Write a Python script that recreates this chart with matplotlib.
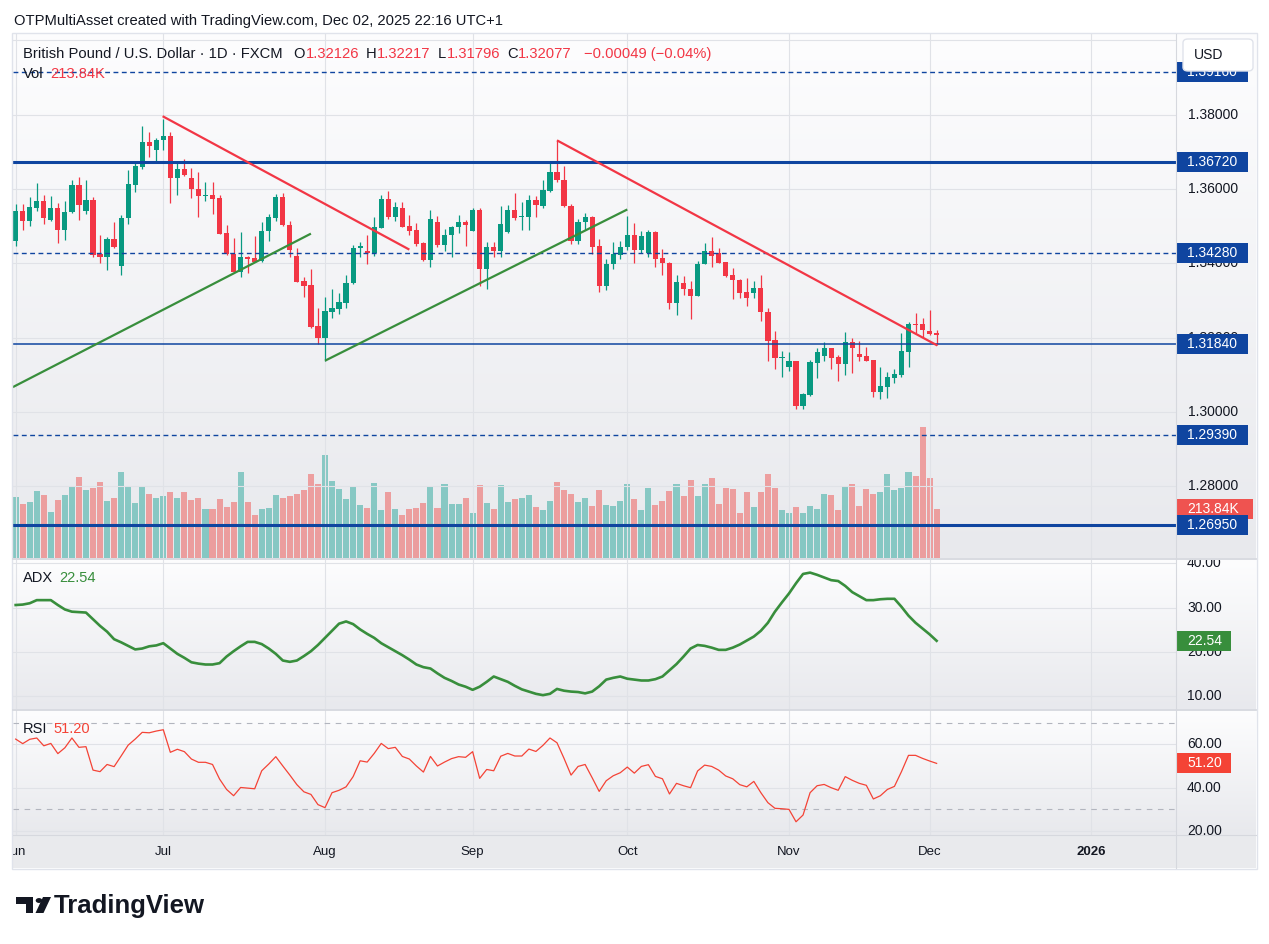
import numpy as np
import matplotlib
matplotlib.use("Agg")
import matplotlib.pyplot as plt
from matplotlib.colors import LinearSegmentedColormap
from matplotlib.lines import Line2D
from matplotlib.patches import Rectangle, FancyBboxPatch, Polygon, Circle

W, H = 1269, 944
plt.rcParams["font.family"] = ["Liberation Sans", "DejaVu Sans"]

# ---- daily GBPUSD bars, 2 Jun 2025 .. 2 Dec 2025 ----
opens = [
    1.3459, 1.3541, 1.3513, 1.3550, 1.3568, 1.3517, 1.3549, 1.3491, 1.3537, 1.3611,
    1.3540, 1.3571, 1.3426, 1.3416, 1.3466, 1.3394, 1.3521, 1.3612, 1.3660, 1.3727,
    1.3704, 1.3731, 1.3743, 1.3631, 1.3655, 1.3630, 1.3601, 1.3580, 1.3585, 1.3575,
    1.3482, 1.3426, 1.3378, 1.3417, 1.3415, 1.3405, 1.3486, 1.3523, 1.3579, 1.3503,
    1.3420, 1.3353, 1.3342, 1.3232, 1.3200, 1.3268, 1.3278, 1.3294, 1.3346, 1.3440,
    1.3434, 1.3428, 1.3496, 1.3574, 1.3525, 1.3548, 1.3501, 1.3490, 1.3455, 1.3410,
    1.3512, 1.3450, 1.3477, 1.3497, 1.3512, 1.3488, 1.3544, 1.3385, 1.3444, 1.3432,
    1.3485, 1.3544, 1.3526, 1.3526, 1.3571, 1.3555, 1.3595, 1.3646, 1.3625, 1.3555,
    1.3459, 1.3511, 1.3525, 1.3447, 1.3338, 1.3397, 1.3423, 1.3443, 1.3477, 1.3435,
    1.3429, 1.3485, 1.3415, 1.3401, 1.3292, 1.3347, 1.3331, 1.3313, 1.3397, 1.3434,
    1.3428, 1.3404, 1.3369, 1.3356, 1.3323, 1.3319, 1.3334, 1.3269, 1.3194, 1.3146,
    1.3122, 1.3137, 1.3017, 1.3047, 1.3133, 1.3152, 1.3172, 1.3148, 1.3130, 1.3189,
    1.3156, 1.3151, 1.3140, 1.3055, 1.3068, 1.3092, 1.3100, 1.3162, 1.3237, 1.3237,
    1.3218, 1.32126,
]
highs = [
    1.3560, 1.3560, 1.3579, 1.3617, 1.3585, 1.3582, 1.3562, 1.3568, 1.3625, 1.3633,
    1.3623, 1.3579, 1.3477, 1.3470, 1.3512, 1.3530, 1.3650, 1.3673, 1.3770, 1.3754,
    1.3738, 1.3789, 1.3753, 1.3676, 1.3682, 1.3657, 1.3647, 1.3620, 1.3620, 1.3585,
    1.3504, 1.3467, 1.3485, 1.3421, 1.3474, 1.3512, 1.3534, 1.3586, 1.3590, 1.3513,
    1.3441, 1.3362, 1.3385, 1.3280, 1.3310, 1.3331, 1.3321, 1.3370, 1.3449, 1.3458,
    1.3477, 1.3525, 1.3584, 1.3595, 1.3566, 1.3566, 1.3531, 1.3509, 1.3458, 1.3544,
    1.3528, 1.3493, 1.3501, 1.3531, 1.3517, 1.3549, 1.3549, 1.3458, 1.3458, 1.3555,
    1.3558, 1.3590, 1.3566, 1.3585, 1.3582, 1.3625, 1.3673, 1.3731, 1.3663, 1.3560,
    1.3520, 1.3536, 1.3528, 1.3466, 1.3412, 1.3458, 1.3461, 1.3528, 1.3509, 1.3487,
    1.3490, 1.3487, 1.3439, 1.3404, 1.3369, 1.3366, 1.3353, 1.3407, 1.3455, 1.3471,
    1.3442, 1.3404, 1.3388, 1.3358, 1.3361, 1.3353, 1.3369, 1.3280, 1.3218, 1.3164,
    1.3162, 1.3137, 1.3052, 1.3140, 1.3172, 1.3189, 1.3172, 1.3153, 1.3215, 1.3199,
    1.3191, 1.3175, 1.3140, 1.3121, 1.3108, 1.3116, 1.3213, 1.3242, 1.3267, 1.3253,
    1.3275, 1.32217,
]
lows = [
    1.3448, 1.3490, 1.3501, 1.3540, 1.3507, 1.3514, 1.3456, 1.3464, 1.3536, 1.3518,
    1.3534, 1.3416, 1.3400, 1.3383, 1.3440, 1.3370, 1.3506, 1.3591, 1.3653, 1.3685,
    1.3674, 1.3704, 1.3563, 1.3585, 1.3636, 1.3577, 1.3526, 1.3567, 1.3534, 1.3479,
    1.3423, 1.3377, 1.3364, 1.3375, 1.3403, 1.3403, 1.3461, 1.3515, 1.3501, 1.3417,
    1.3350, 1.3309, 1.3227, 1.3184, 1.3138, 1.3254, 1.3265, 1.3281, 1.3345, 1.3418,
    1.3399, 1.3421, 1.3495, 1.3520, 1.3514, 1.3499, 1.3477, 1.3447, 1.3407, 1.3391,
    1.3445, 1.3433, 1.3416, 1.3483, 1.3448, 1.3488, 1.3340, 1.3331, 1.3416, 1.3417,
    1.3482, 1.3517, 1.3490, 1.3490, 1.3526, 1.3549, 1.3593, 1.3620, 1.3552, 1.3453,
    1.3453, 1.3490, 1.3426, 1.3323, 1.3329, 1.3385, 1.3412, 1.3436, 1.3401, 1.3427,
    1.3418, 1.3391, 1.3370, 1.3278, 1.3262, 1.3316, 1.3249, 1.3311, 1.3397, 1.3391,
    1.3400, 1.3362, 1.3304, 1.3308, 1.3286, 1.3308, 1.3246, 1.3138, 1.3117, 1.3095,
    1.3109, 1.3009, 1.3009, 1.3044, 1.3092, 1.3136, 1.3117, 1.3084, 1.3100, 1.3106,
    1.3136, 1.3136, 1.3041, 1.3036, 1.3039, 1.3079, 1.3095, 1.3122, 1.3213, 1.3203,
    1.3206, 1.31796,
]
closes = [
    1.3541, 1.3513, 1.3552, 1.3568, 1.3523, 1.3549, 1.3491, 1.3539, 1.3611, 1.3558,
    1.3571, 1.3423, 1.3416, 1.3466, 1.3445, 1.3523, 1.3614, 1.3663, 1.3727, 1.3715,
    1.3733, 1.3743, 1.3631, 1.3655, 1.3637, 1.3599, 1.3580, 1.3585, 1.3572, 1.3480,
    1.3424, 1.3378, 1.3417, 1.3413, 1.3404, 1.3487, 1.3525, 1.3579, 1.3502, 1.3435,
    1.3351, 1.3340, 1.3230, 1.3200, 1.3272, 1.3280, 1.3297, 1.3347, 1.3442, 1.3448,
    1.3427, 1.3498, 1.3574, 1.3525, 1.3552, 1.3499, 1.3488, 1.3452, 1.3409, 1.3520,
    1.3450, 1.3477, 1.3499, 1.3512, 1.3502, 1.3544, 1.3385, 1.3444, 1.3432, 1.3506,
    1.3544, 1.3523, 1.3528, 1.3571, 1.3556, 1.3598, 1.3646, 1.3623, 1.3553, 1.3459,
    1.3512, 1.3525, 1.3445, 1.3338, 1.3399, 1.3426, 1.3444, 1.3477, 1.3435, 1.3474,
    1.3485, 1.3413, 1.3400, 1.3292, 1.3350, 1.3330, 1.3313, 1.3399, 1.3434, 1.3421,
    1.3402, 1.3367, 1.3354, 1.3321, 1.3308, 1.3334, 1.3268, 1.3192, 1.3144, 1.3148,
    1.3137, 1.3017, 1.3048, 1.3135, 1.3162, 1.3172, 1.3146, 1.3130, 1.3189, 1.3171,
    1.3149, 1.3138, 1.3055, 1.3070, 1.3094, 1.3102, 1.3164, 1.3237, 1.3234, 1.3222,
    1.3211, 1.32077,
]
volume_k = [
    266, 236, 244, 293, 275, 200, 253, 275, 310, 354,
    297, 306, 332, 249, 262, 376, 310, 240, 315, 279,
    262, 271, 288, 262, 288, 253, 262, 214, 214, 257,
    222, 244, 376, 244, 187, 214, 218, 275, 262, 271,
    279, 297, 367, 323, 451, 336, 301, 257, 310, 231,
    218, 328, 209, 288, 214, 187, 214, 218, 240, 310,
    218, 323, 236, 236, 262, 196, 319, 240, 214, 319,
    244, 257, 262, 275, 222, 209, 249, 332, 297, 279,
    244, 262, 227, 297, 231, 227, 249, 323, 257, 209,
    306, 231, 249, 293, 323, 271, 341, 271, 323, 350,
    236, 306, 301, 196, 288, 222, 288, 367, 306, 209,
    196, 222, 196, 227, 214, 279, 275, 209, 310, 323,
    227, 301, 279, 288, 367, 297, 306, 376, 358, 573,
    350, 213.84,
]
adx = [
    30.6, 30.7, 31.0, 31.7, 31.7, 31.7, 30.6, 29.6, 29.1, 29.0,
    28.9, 27.4, 25.9, 24.6, 22.9, 22.2, 21.4, 20.6, 20.8, 21.3,
    21.5, 22.0, 20.8, 19.6, 18.7, 17.7, 17.4, 17.2, 17.2, 17.5,
    19.0, 20.2, 21.3, 22.3, 22.3, 21.8, 20.8, 19.6, 18.1, 17.8,
    18.1, 19.1, 20.2, 21.6, 23.2, 24.8, 26.4, 26.9, 26.3, 25.1,
    24.1, 23.2, 22.0, 21.1, 20.2, 19.3, 18.3, 17.2, 16.6, 16.3,
    15.2, 14.2, 13.5, 12.7, 12.2, 11.5, 12.2, 13.3, 14.5, 13.9,
    13.3, 12.4, 11.6, 11.1, 10.6, 10.3, 10.6, 11.7, 11.3, 11.1,
    11.0, 10.7, 11.1, 12.3, 13.8, 14.2, 14.5, 14.0, 13.8, 13.6,
    13.6, 13.9, 14.5, 15.9, 17.3, 19.0, 20.8, 21.6, 21.4, 21.0,
    20.5, 20.5, 21.0, 21.7, 22.6, 23.5, 24.8, 26.6, 29.1, 31.2,
    33.2, 35.5, 37.6, 37.9, 37.4, 36.8, 36.2, 36.0, 34.9, 33.5,
    32.6, 31.7, 31.7, 31.9, 32.0, 32.0, 30.2, 28.2, 26.6, 25.3,
    24.0, 22.54,
]
rsi = [
    62.4, 60.3, 62.3, 62.9, 59.3, 60.4, 55.7, 58.4, 62.9, 58.6,
    58.9, 48.1, 47.4, 50.7, 49.7, 54.6, 59.6, 62.4, 65.5, 65.3,
    66.1, 66.7, 56.3, 57.7, 56.6, 53.2, 51.7, 51.7, 50.7, 44.0,
    39.2, 36.3, 40.1, 39.8, 39.5, 47.8, 50.9, 54.3, 50.0, 45.8,
    41.4, 38.1, 36.9, 32.2, 30.8, 37.7, 38.8, 40.4, 45.1, 52.4,
    51.8, 55.8, 60.4, 58.0, 58.6, 54.4, 53.2, 50.0, 47.2, 54.4,
    50.0, 51.8, 53.4, 54.3, 54.0, 56.6, 44.3, 48.4, 47.8, 54.5,
    55.8, 54.6, 54.6, 57.8, 56.7, 59.5, 62.9, 60.7, 53.5, 45.8,
    49.8, 50.7, 44.6, 38.3, 43.2, 45.5, 46.9, 49.5, 46.7, 49.8,
    50.6, 45.2, 44.1, 37.1, 42.0, 40.9, 40.0, 47.7, 50.4, 49.8,
    48.1, 45.4, 44.1, 41.4, 40.4, 42.9, 37.7, 33.1, 30.5, 30.3,
    30.0, 24.3, 27.4, 37.7, 40.9, 41.5, 40.0, 38.8, 45.1, 43.4,
    42.0, 41.1, 34.8, 36.3, 39.2, 40.6, 47.4, 54.9, 54.9, 53.5,
    52.3, 51.20,
]

month_idx = [0, 21, 44, 65, 87, 110, 130, 153]
month_names = ["Jun", "Jul", "Aug", "Sep", "Oct", "Nov", "Dec", "2026"]

price_ticks = [1.28, 1.30, 1.32, 1.34, 1.36, 1.38]
price_grid = [1.28, 1.30, 1.32, 1.34, 1.36, 1.38, 1.40]
adx_ticks = [10, 20, 30, 40]
rsi_ticks = [20, 40, 60]
rsi_bands = [70, 30]

levels = [1.3916, 1.3672, 1.3428, 1.3184, 1.2939, 1.2695]
level_kind = ["dash", "thick", "dash", "thin", "dash", "thick"]

red_trend = [[(20.9, 1.3796), (56.0, 1.3437)], [(77.0, 1.3731), (131.1, 1.3179)]]
green_trend = [[(-0.4, 1.3067), (42.0, 1.3480)], [(44.0, 1.3138), (87.0, 1.3545)]]

# ---- styling ----
TEXT = "#131722"
GREEN = "#089981"
RED = "#f23645"
LEVEL = "#0f45a0"
ADX_C = "#388e3c"
RSI_C = "#f44336"
GRID = "#e0e2e7"
SEP = "#d6d8de"
STRIP = "#e9eaed"
PANE = LinearSegmentedColormap.from_list("pane", ["#fdfdfe", "#e8e9ed"])

PX_L, PX_R, AX_R = 13, 1176, 1256
P_TOP, P_BOT = 34, 558
A_TOP, A_BOT = 560, 709
R_TOP, R_BOT = 710, 835
X_BOT = 868
XLIM = (-0.38, 165.05)
PRICE_LIM = (1.26071, 1.40172)
VOL_MAX = 2290
ADX_LIM = (7.18, 40.74)
RSI_LIM = (18.2, 75.8)


def rect(x0, y0, x1, y1):
    return [x0 / W, 1 - y1 / H, (x1 - x0) / W, (y1 - y0) / H]


def blank(ax):
    ax.set_xticks([])
    ax.set_yticks([])
    for s in ax.spines.values():
        s.set_visible(False)


def shade(ax):
    ax.imshow(np.linspace(0, 1, 256).reshape(-1, 1), cmap=PANE, aspect="auto",
              extent=(0, 1, 0, 1), transform=ax.transAxes, zorder=-10,
              interpolation="bicubic")


def fig_line(x0, y0, x1, y1, color=SEP, lw=1.0):
    fig.add_artist(Line2D([x0 / W, x1 / W], [1 - y0 / H, 1 - y1 / H],
                          color=color, lw=lw, transform=fig.transFigure))


def tag(ax, y, text, color, ppu, width=71, h_px=20, z=5):
    h = h_px / ppu
    ax.add_patch(Rectangle((1, y - h / 2), width, h, facecolor=color,
                           edgecolor="none", zorder=z))
    ax.text(11.5, y, text, color="white", fontsize=10, ha="left", va="center",
            zorder=z + 0.5)


def right_column(top, bot, ylim):
    ax = fig.add_axes(rect(PX_R, top, AX_R, bot))
    blank(ax)
    shade(ax)
    ax.set_xlim(0, AX_R - PX_R)
    ax.set_ylim(*ylim)
    return ax, (bot - top) / (ylim[1] - ylim[0])


fig = plt.figure(figsize=(W / 100, H / 100), dpi=100, facecolor="white")

x = np.arange(len(closes))
o, hi, lo, c = map(np.array, (opens, highs, lows, closes))
up = c >= o
candle_col = np.where(up, GREEN, RED)

# ---- price pane: volume underneath, candles and drawings on top ----
ax_v = fig.add_axes(rect(PX_L, P_TOP, PX_R, P_BOT))
blank(ax_v)
shade(ax_v)
ax_v.bar(x, volume_k, width=0.86, color=np.where(up, "#26a69a", "#ef5350"),
         alpha=0.5, linewidth=0)
ax_v.set_xlim(*XLIM)
ax_v.set_ylim(0, VOL_MAX)

ax_p = fig.add_axes(rect(PX_L, P_TOP, PX_R, P_BOT))
blank(ax_p)
ax_p.patch.set_visible(False)
for v in price_grid:
    ax_p.axhline(v, color=GRID, lw=0.8, zorder=0)
for i in month_idx:
    ax_p.axvline(i, color=GRID, lw=0.8, zorder=0)

ax_p.vlines(x, lo, hi, colors=candle_col, lw=0.9, zorder=2)
ax_p.bar(x, np.maximum(np.abs(c - o), 0.00025), bottom=np.minimum(o, c),
         width=0.74, color=candle_col, linewidth=0, zorder=3)

styles = {
    "dash": dict(lw=1.0, ls=(0, (3.5, 2.5))),
    "thick": dict(lw=2.2, ls="-"),
    "thin": dict(lw=1.1, ls="-"),
}
for v, k in zip(levels, level_kind):
    ax_p.axhline(v, color=LEVEL, zorder=4, **styles[k])
for seg in red_trend:
    ax_p.plot(*zip(*seg), color=RED, lw=1.6, zorder=5, solid_capstyle="butt")
for seg in green_trend:
    ax_p.plot(*zip(*seg), color=ADX_C, lw=1.6, zorder=5, solid_capstyle="butt")
ax_p.set_xlim(*XLIM)
ax_p.set_ylim(*PRICE_LIM)

ax_pr, ppu_p = right_column(P_TOP, P_BOT, PRICE_LIM)
for v in price_ticks:
    ax_pr.text(12, v, f"{v:.5f}", fontsize=10, color=TEXT, ha="left", va="center",
               zorder=3, clip_on=True)
vol_y = ax_pr.transData.inverted().transform(
    ax_v.transData.transform((0, volume_k[-1])))[1]
tag(ax_pr, vol_y, f"{volume_k[-1]:.2f}K", "#ef5350", ppu_p, width=76, z=4)
for v in levels:
    tag(ax_pr, v, f"{v:.5f}", LEVEL, ppu_p)

# ---- ADX pane ----
ax_a = fig.add_axes(rect(PX_L, A_TOP, PX_R, A_BOT))
blank(ax_a)
shade(ax_a)
for v in adx_ticks:
    ax_a.axhline(v, color=GRID, lw=0.8, zorder=0)
for i in month_idx:
    ax_a.axvline(i, color=GRID, lw=0.8, zorder=0)
ax_a.plot(x, adx, color=ADX_C, lw=1.9, zorder=3, solid_joinstyle="round")
ax_a.set_xlim(*XLIM)
ax_a.set_ylim(*ADX_LIM)

ax_ar, ppu_a = right_column(A_TOP, A_BOT, ADX_LIM)
for v in adx_ticks:
    ax_ar.text(11, v, f"{v:.2f}", fontsize=10, color=TEXT, ha="left", va="center",
               zorder=3, clip_on=True)
tag(ax_ar, adx[-1], f"{adx[-1]:.2f}", ADX_C, ppu_a, width=54)

# ---- RSI pane ----
ax_r = fig.add_axes(rect(PX_L, R_TOP, PX_R, R_BOT))
blank(ax_r)
shade(ax_r)
for v in rsi_ticks:
    ax_r.axhline(v, color=GRID, lw=0.8, zorder=0)
for i in month_idx:
    ax_r.axvline(i, color=GRID, lw=0.8, zorder=0)
for v in rsi_bands:
    ax_r.axhline(v, color="#b2b5be", lw=0.8, ls=(0, (5, 5)), zorder=1)
ax_r.plot(x, rsi, color=RSI_C, lw=0.9, zorder=3)
ax_r.set_xlim(*XLIM)
ax_r.set_ylim(*RSI_LIM)

ax_rr, ppu_r = right_column(R_TOP, R_BOT, RSI_LIM)
for v in rsi_ticks:
    ax_rr.text(11, v, f"{v:.2f}", fontsize=10, color=TEXT, ha="left", va="center",
               zorder=3, clip_on=True)
tag(ax_rr, rsi[-1], f"{rsi[-1]:.2f}", RSI_C, ppu_r, width=54)

# ---- time axis ----
ax_x = fig.add_axes(rect(PX_L, R_BOT, PX_R, X_BOT))
blank(ax_x)
ax_x.set_facecolor(STRIP)
ax_x.set_xlim(*XLIM)
for i, name in zip(month_idx, month_names):
    ax_x.text(i, 0.47, name, transform=ax_x.get_xaxis_transform(), ha="center",
              va="center", fontsize=9.5, color=TEXT, clip_on=True,
              fontweight="bold" if name == "2026" else "normal")
ax_xr = fig.add_axes(rect(PX_R, R_BOT, AX_R, X_BOT))
blank(ax_xr)
ax_xr.set_facecolor(STRIP)

# ---- frame and separators ----
fig.add_artist(Rectangle((12 / W, 1 - 869 / H), 1245 / W, 836 / H, fill=False,
                         edgecolor="#e0e3eb", lw=1.0, transform=fig.transFigure))
fig_line(PX_L, 559, AX_R, 559, lw=1.3)
fig_line(PX_L, 709.5, AX_R, 709.5, lw=1.3)
fig_line(PX_L, 835, AX_R, 835, lw=0.8)
fig_line(PX_R, P_TOP, PX_R, X_BOT, lw=0.8)

fig.add_artist(FancyBboxPatch((1183 / W, 1 - 71 / H), 70 / W, 32 / H,
                              boxstyle="round,pad=0,rounding_size=0.004",
                              facecolor="white", edgecolor="#e0e3eb", lw=1.0,
                              transform=fig.transFigure, zorder=2))
fig.text(1194 / W, 1 - 55 / H, "USD", fontsize=10, color=TEXT, va="center", zorder=3)


# ---- header and legends ----
def px_text(xp, yp, s, color=TEXT, size=10, **kw):
    return fig.text(xp / W, 1 - yp / H, s, color=color, fontsize=size,
                    va="center", **kw)


px_text(14, 20.5, "OTPMultiAsset created with TradingView.com, Dec 02, 2025 22:16 UTC+1",
        size=10.6)

change = closes[-1] - opens[-1]
pct = change / opens[-1] * 100
# (text, colour, gap in px after it)
legend_parts = [
    ("British Pound / U.S. Dollar \u00b7 1D \u00b7 FXCM", TEXT, 11),
    ("O", TEXT, 0.5), (f"{opens[-1]:.5f}", RED, 7),
    ("H", TEXT, 0.5), (f"{highs[-1]:.5f}", RED, 7),
    ("L", TEXT, 0.5), (f"{lows[-1]:.5f}", RED, 7),
    ("C", TEXT, 0.5), (f"{closes[-1]:.5f}", RED, 12),
    (f"{change:+.5f} ({pct:+.2f}%)".replace("-", "\u2212"), RED, 0),
]
renderer = fig.canvas.get_renderer()
xp = 23
for s, col, gap in legend_parts:
    t = px_text(xp, 54, s, color=col, size=10.6)
    xp += t.get_window_extent(renderer).width + gap

t = px_text(23, 74, "Vol", size=10.6, zorder=6)
px_text(23 + t.get_window_extent(renderer).width + 7, 74,
        f"{volume_k[-1]:.2f}K", color=RED, size=10.6, zorder=6)

px_text(23, 577.5, "ADX", size=10.5)
px_text(59, 577.5, f"{adx[-1]:.2f}", color=ADX_C, size=10.5)
px_text(23, 729, "RSI", size=10.5)
px_text(53, 729, f"{rsi[-1]:.2f}", color=RSI_C, size=10.5)


# ---- TradingView mark ----
def fig_poly(pts):
    fig.add_artist(Polygon([(px / W, 1 - py / H) for px, py in pts], closed=True,
                           facecolor=TEXT, edgecolor="none", transform=fig.transFigure))


fig_poly([(16, 897), (33, 897), (33, 913), (26, 913), (26, 903.5), (16, 903.5)])
fig_poly([(43, 897), (51, 897), (43.5, 913), (35.5, 913)])
fig.add_artist(Circle((39 / W, 1 - 900.5 / H), 3.3 / W, facecolor=TEXT,
                      edgecolor="none", transform=fig.transFigure))
px_text(54, 906, "TradingView", size=18.5, fontweight="bold")

fig.savefig("out.png", dpi=100)
plt.close(fig)
